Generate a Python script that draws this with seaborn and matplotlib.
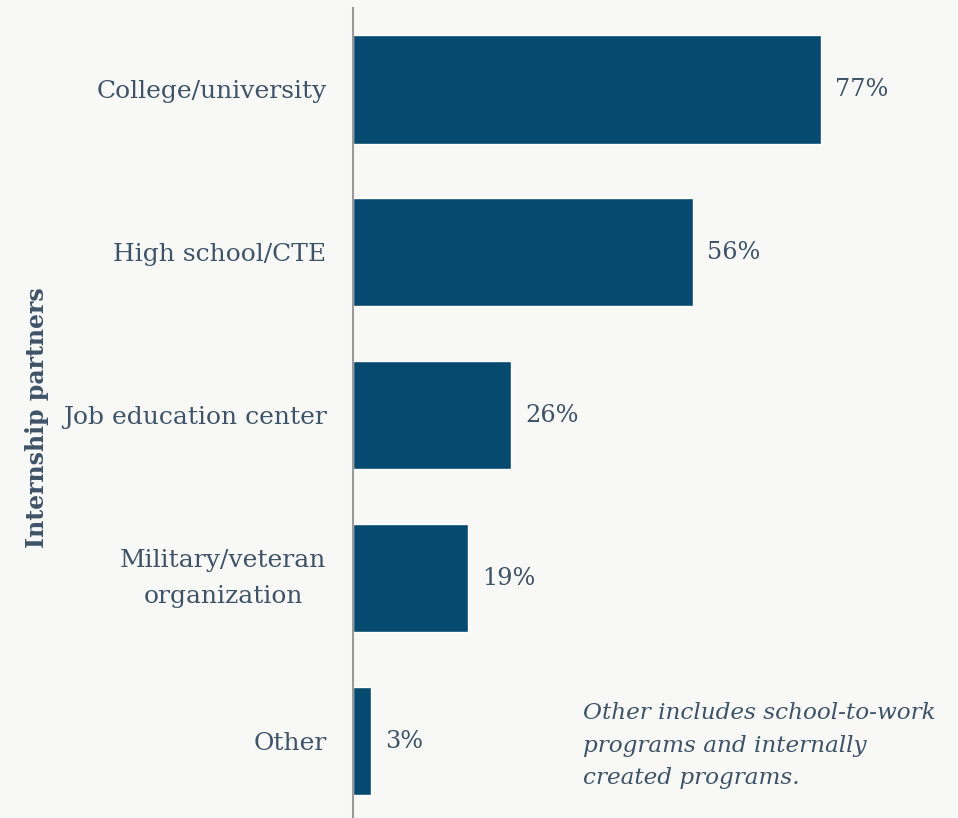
import matplotlib
matplotlib.use("Agg")
import matplotlib.pyplot as plt
import matplotlib.transforms as mtransforms
import seaborn as sns
import pandas as pd

categories = ["College/university", "High school/CTE", "Job education center",
              "Military/veteran\norganization", "Other"]
shares = [77, 56, 26, 19, 3]
value_labels = ["77%", "56%", "26%", "19%", "3%"]
note = "Other includes school-to-work\nprograms and internally\ncreated programs."

bg = "#f8f8f6"
bar_color = "#074a70"
text_color = "#3e5367"

sns.set_theme(style="white")
plt.rcParams["font.family"] = ["DejaVu Serif"]

df = pd.DataFrame({"partner": categories, "share": shares})

fig = plt.figure(figsize=(9.58, 8.18), dpi=100, facecolor=bg)
ax = fig.add_axes([353 / 958, 0.0, 1 - 353 / 958, 1 - 8 / 818])
ax.set_facecolor(bg)

sns.barplot(data=df, x="share", y="partner", orient="h", color=bar_color,
            saturation=1, width=0.663, ax=ax)

ax.set_xlim(0, 99.6)
ax.set_ylim(4.47, -0.5)

for i, (v, lab) in enumerate(zip(shares, value_labels)):
    ax.text(v + 2.3, i, lab, va="center", ha="left", fontsize=17.3, color=text_color)

for s in ["top", "right", "bottom"]:
    ax.spines[s].set_visible(False)
ax.spines["left"].set_color("#9a9a9a")
ax.spines["left"].set_linewidth(1.5)

ax.set_xticks([])
ax.tick_params(axis="y", length=0, pad=19, labelsize=18, labelcolor=text_color)
lift = mtransforms.ScaledTranslation(0, 9 / 100, fig.dpi_scale_trans)
for t in ax.get_yticklabels():
    t.set_multialignment("center")
    t.set_linespacing(1.7)
    if "\n" in t.get_text():
        t.set_transform(t.get_transform() + lift)

ax.set_xlabel("")
ax.set_ylabel("")
fig.text(37 / 958, 1 - 418 / 818, "Internship partners", rotation=90,
         ha="center", va="center", fontsize=17, fontweight="bold", color=text_color)

fig.text(583 / 958, 1 - 702 / 818, note, ha="left", va="top", fontsize=16.7,
         style="italic", color=text_color, linespacing=1.62)

fig.savefig("out.png", dpi=100, facecolor=bg)
